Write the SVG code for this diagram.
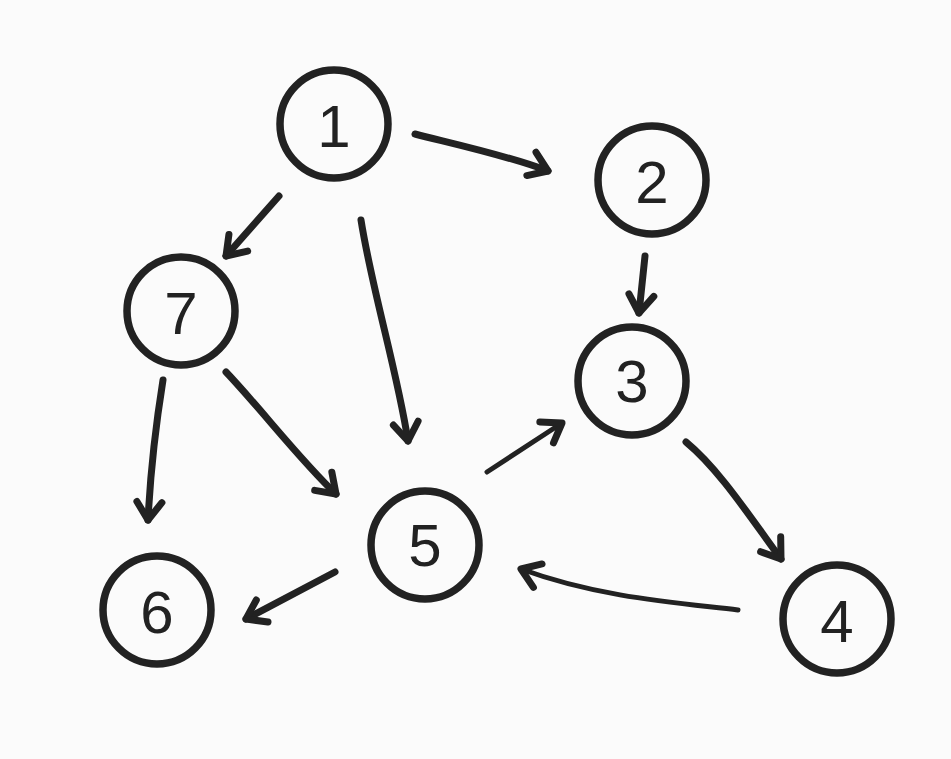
<svg xmlns="http://www.w3.org/2000/svg" width="951" height="759" viewBox="0 0 951 759">
<defs>
<marker id="ah" markerUnits="userSpaceOnUse" markerWidth="40" markerHeight="40" refX="0" refY="0" orient="auto" overflow="visible" viewBox="-30 -20 40 40">
<path d="M-18,-13 L0,0 L-18,12" fill="none" stroke="#222" stroke-width="7" stroke-linecap="round" stroke-linejoin="round"/>
</marker>
</defs>
<style>
.n circle{fill:none;stroke:#222;stroke-width:7.5}
.n text{font-family:"Liberation Sans",Arial,sans-serif;font-size:60px;fill:#222;text-anchor:middle;dominant-baseline:central}
.e path{fill:none;stroke:#222;stroke-width:7;stroke-linecap:round;marker-end:url(#ah)}
</style>
<rect width="951" height="759" fill="#fbfbfb"/>
<g id="edges" class="e">
<path d="M415,134 C450,143 510,156 548,171"/>
<path d="M645,256 L639,313"/>
<path d="M279,196 L226,256"/>
<path d="M361,220 C372,290 397,370 408,441"/>
<path d="M163,380 C155,430 150,480 148,520"/>
<path d="M226,372 C262,410 300,460 336,494"/>
<path d="M487,472 L562,423" style="stroke-width:5"/>
<path d="M686,442 C720,470 752,520 781,559"/>
<path d="M738,610 C680,603 600,598 521,569" style="stroke-width:5"/>
<path d="M335,572 L246,619"/>
</g>
<g id="n1" class="n"><circle cx="334" cy="124" r="54"/><text x="334" y="126">1</text></g>
<g id="n2" class="n"><circle cx="652" cy="180" r="54"/><text x="652" y="182">2</text></g>
<g id="n3" class="n"><circle cx="632" cy="381" r="54"/><text x="632" y="381">3</text></g>
<g id="n7" class="n"><circle cx="181" cy="311" r="54"/><text x="181" y="313">7</text></g>
<g id="n5" class="n"><circle cx="425" cy="545" r="54"/><text x="425" y="545">5</text></g>
<g id="n6" class="n"><circle cx="157" cy="610" r="54"/><text x="157" y="612">6</text></g>
<g id="n4" class="n"><circle cx="837" cy="619" r="54"/><text x="837" y="621">4</text></g>
</svg>
